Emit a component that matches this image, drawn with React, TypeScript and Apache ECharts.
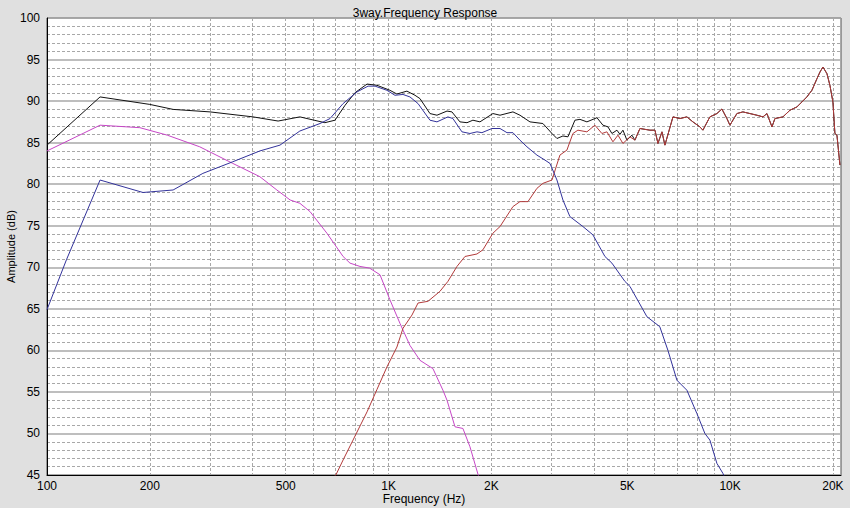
import React, { useEffect, useRef } from "react";
import * as echarts from "echarts";

// Frequency (Hz) / amplitude (dB) pairs
const wooferData: [number, number][] = [
  [100, 84.0], [143, 87.1], [187, 86.8], [225, 85.9], [280, 84.5], [350, 82.5],
  [420, 80.9], [471, 79.3], [515, 78.1], [550, 77.7], [589, 76.7], [660, 74.1],
  [736, 71.3], [771, 70.5], [825, 70.1], [880, 69.9], [944, 69.1], [1009, 66.1],
  [1080, 63.25], [1155, 60.6], [1236, 58.8], [1349, 57.8], [1443, 55.2], [1483, 54.0],
  [1565, 50.8], [1651, 50.6], [1731, 48.4], [1827, 45.1], [1900, 43.0],
];

const midData: [number, number][] = [
  [100, 64.9], [114, 70.9], [143, 80.5], [191, 79.0], [234, 79.3], [286, 81.3],
  [350, 82.7], [420, 84.0], [481, 84.7], [550, 86.4], [630, 87.3], [674, 87.9],
  [736, 89.7], [808, 91.1], [871, 91.8], [913, 91.8], [989, 91.3], [1044, 90.7],
  [1102, 90.8], [1155, 90.5], [1220, 89.7], [1322, 87.7], [1386, 87.5], [1492, 88.1],
  [1543, 87.9], [1640, 86.3], [1731, 86.1], [1815, 86.3], [1877, 86.2], [2008, 86.7],
  [2120, 86.7], [2222, 86.2], [2313, 86.2], [2425, 85.3], [2542, 84.5], [2719, 83.5],
  [2870, 82.9], [2969, 82.5], [3112, 80.5], [3240, 78.1], [3396, 76.1], [3708, 74.9],
  [3966, 73.9], [4300, 71.3], [4508, 70.5], [4921, 68.3], [5090, 67.7], [5708, 64.05],
  [6225, 62.85], [6576, 60.0], [6988, 56.4], [7473, 55.2], [7994, 52.4], [8437, 50.0],
  [8727, 49.2], [9148, 46.4], [9526, 45.2], [9800, 44.0],
];

const tweeterLowData: [number, number][] = [
  [680, 44.5], [701, 45.0], [740, 47.0], [787, 49.2], [865, 52.6], [925, 55.3], [989, 58.0],
  [1058, 60.4], [1102, 62.65], [1171, 64.25], [1220, 65.7], [1304, 65.9], [1414, 67.1],
  [1492, 68.3], [1586, 70.1], [1674, 71.3], [1815, 71.6], [1889, 72.1], [2021, 74.1],
  [2120, 74.9], [2313, 77.3], [2425, 77.9], [2559, 77.9], [2719, 79.5], [2831, 80.1],
  [3009, 80.5], [3175, 83.5], [3328, 84.1], [3466, 86.1], [3584, 86.5], [3809, 86.3],
  [4020, 87.1], [4214, 86.1], [4358, 86.3], [4539, 85.1], [4696, 85.9], [4856, 84.9],
  [5090, 85.7], [5264, 85.3],
];

const totalLowData: [number, number][] = [
  [100, 84.7], [143, 90.5], [200, 89.6], [234, 89.0], [300, 88.7], [401, 88.1],
  [475, 87.6], [550, 88.1], [651, 87.4], [697, 87.7], [746, 89.5], [797, 91.0],
  [865, 92.05], [925, 91.9], [1009, 91.3], [1058, 90.85], [1132, 91.2], [1195, 90.7],
  [1236, 90.3], [1322, 88.5], [1386, 88.3], [1483, 88.8], [1533, 88.7], [1618, 87.5],
  [1697, 87.4], [1766, 87.7], [1852, 87.5], [2021, 88.5], [2120, 88.3], [2313, 88.7],
  [2425, 88.3], [2594, 87.5], [2831, 87.3], [3009, 86.1], [3112, 85.5], [3240, 85.8],
  [3351, 85.7], [3513, 87.7], [3634, 87.8], [3809, 87.5], [4075, 88.0], [4243, 87.1],
  [4389, 86.9], [4508, 86.1], [4663, 86.5], [4759, 86.0], [4856, 86.5], [4988, 85.3],
  [5159, 85.9], [5264, 85.3],
];

// Above ~5.4 kHz the total and the tweeter coincide
const sharedHighData: [number, number][] = [
  [5445, 86.7], [5825, 86.5], [6025, 86.5], [6148, 84.9], [6316, 86.3], [6444, 84.7],
  [6803, 88.1], [7129, 87.9], [7473, 88.1], [7782, 87.5], [8157, 86.9], [8324, 86.5],
  [8727, 88.1], [9148, 88.5], [9462, 89.05], [9787, 87.9], [9986, 87.1], [10470, 88.5],
  [10900, 88.7], [11430, 88.5], [11980, 88.3], [12480, 88.1], [12820, 88.5], [13260, 86.9],
  [13530, 87.9], [14280, 88.1], [14970, 88.9], [15690, 89.3], [16230, 89.9], [16780, 90.5],
  [17360, 91.3], [17960, 92.7], [18330, 93.5], [18700, 94.1], [19210, 93.3], [19600, 91.9],
  [20000, 89.9], [20270, 86.1], [20550, 85.9], [20970, 82.3],
];

const labelFreqs = [100, 200, 500, 1000, 2000, 5000, 10000, 20000];
const labelTexts = ["100", "200", "500", "1K", "2K", "5K", "10K", "20K"];
const gridFreqs = [
  100, 200, 300, 400, 500, 600, 700, 800, 900,
  1000, 2000, 3000, 4000, 5000, 6000, 7000, 8000, 9000,
  10000, 20000,
];
const freqMin = 100;
const freqMax = 21120;

const toXY = (d: [number, number][]) => d.map(([f, v]) => [Math.log10(f), v]);

export default function App() {
  const ref = useRef<HTMLDivElement>(null);
  useEffect(() => {
    if (!ref.current) return;
    const chart = echarts.init(ref.current, undefined, { renderer: "svg" });
    const font = "'Liberation Sans', Arial, sans-serif";
    const gridGrey = "#a8a8a8";
    chart.setOption({
      animation: false,
      backgroundColor: "#e0e0e0",
      textStyle: { fontFamily: font },
      title: {
        text: "3way.Frequency Response",
        left: "center",
        top: 2,
        textStyle: { fontSize: 12, fontWeight: "normal", color: "#000", fontFamily: font },
      },
      grid: {
        left: 47,
        right: 9,
        top: 18,
        bottom: 33,
        containLabel: false,
        outerBoundsMode: "none",
        show: true,
        backgroundColor: "#ffffff",
        borderColor: "#505050",
        borderWidth: 1,
      },
      xAxis: {
        type: "value",
        min: Math.log10(freqMin),
        max: Math.log10(freqMax),
        axisLine: { show: true, lineStyle: { color: "#000", width: 1 } },
        axisTick: { show: false, customValues: gridFreqs.map((f) => Math.log10(f)) },
        axisLabel: {
          customValues: labelFreqs.map((f) => Math.log10(f)),
          formatter: (v: number) => {
            const i = labelFreqs.findIndex((f) => Math.abs(Math.log10(f) - v) < 1e-6);
            return i >= 0 ? labelTexts[i] : "";
          },
          color: "#000",
          fontSize: 12,
          margin: 5,
          fontFamily: font,
          showMinLabel: true,
          showMaxLabel: true,
        },
        splitLine: { show: true, lineStyle: { color: gridGrey, type: [3, 2], width: 1 } },
      },
      yAxis: {
        type: "value",
        min: 45,
        max: 100,
        interval: 5,
        name: "Amplitude (dB)",
        nameLocation: "middle",
        nameGap: 31,
        nameMoveOverlap: false,
        nameTextStyle: { color: "#000", fontSize: 11, fontFamily: font },
        axisLine: { show: true, lineStyle: { color: "#000", width: 1 } },
        axisTick: { show: false },
        axisLabel: { color: "#000", fontSize: 12, margin: 7, fontFamily: font },
        splitLine: { show: true, lineStyle: { color: gridGrey, type: "solid", width: 1.5 } },
        minorTick: { show: false, splitNumber: 5 },
        minorSplitLine: { show: true, lineStyle: { color: gridGrey, type: [3, 2], width: 1 } },
      },
      graphic: [
        {
          type: "text",
          x: 424,
          y: 499,
          style: {
            text: "Frequency (Hz)",
            fill: "#000",
            fontSize: 12,
            fontFamily: font,
            textAlign: "center",
            textVerticalAlign: "middle",
          },
        },
      ],
      series: [
        {
          name: "Woofer",
          type: "line",
          data: toXY(wooferData),
          showSymbol: false,
          lineStyle: { color: "#c646c6", width: 1 },
          itemStyle: { color: "#c646c6" },
          z: 3,
        },
        {
          name: "Tweeter",
          type: "line",
          data: toXY([...tweeterLowData, ...sharedHighData]),
          showSymbol: false,
          lineStyle: { color: "#b23a3a", width: 1 },
          itemStyle: { color: "#b23a3a" },
          z: 4,
        },
        {
          name: "Total",
          type: "line",
          data: toXY([...totalLowData, ...sharedHighData]),
          showSymbol: false,
          lineStyle: { color: "#111111", width: 1 },
          itemStyle: { color: "#111111" },
          z: 3,
        },
        {
          name: "Midrange",
          type: "line",
          data: toXY(midData),
          showSymbol: false,
          lineStyle: { color: "#32329a", width: 1 },
          itemStyle: { color: "#32329a" },
          z: 5,
        },
      ],
    });
    return () => chart.dispose();
  }, []);
  return (
    <div
      ref={ref}
      style={{ position: "fixed", left: 0, top: 0, width: 850, height: 508, background: "#e0e0e0" }}
    />
  );
}
